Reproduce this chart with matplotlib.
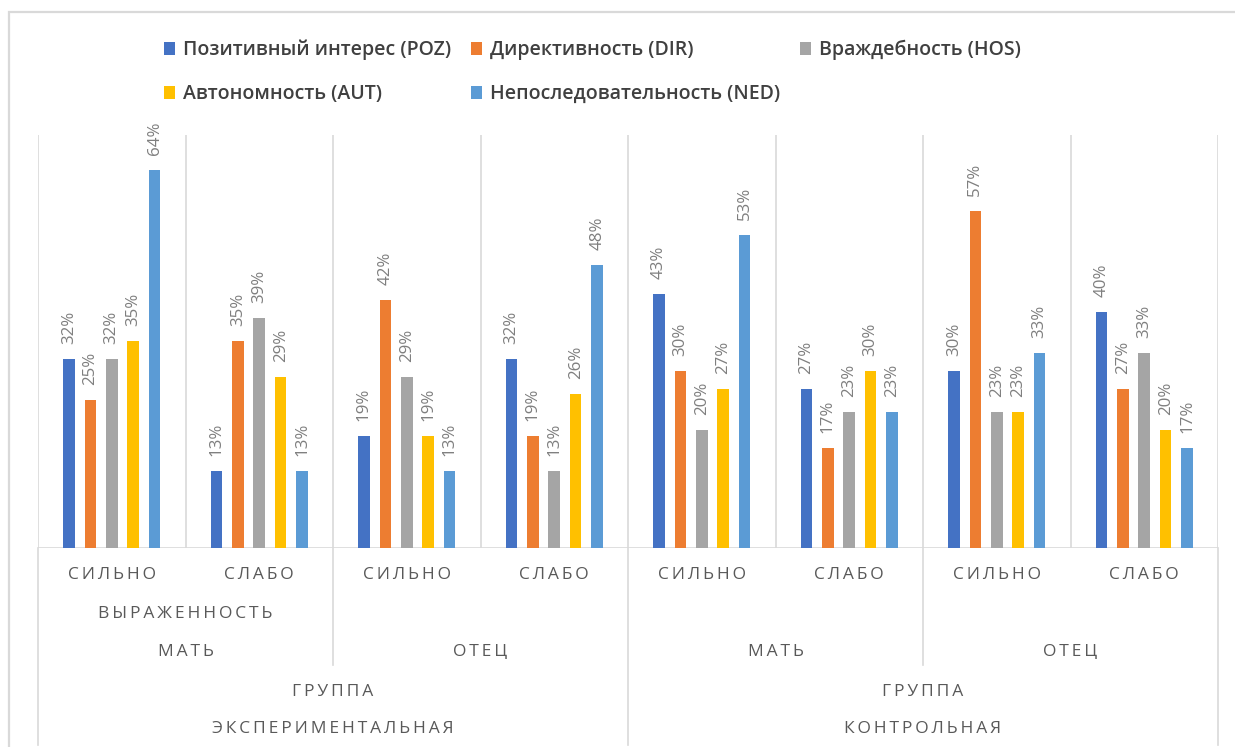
import matplotlib
matplotlib.use("Agg")
import matplotlib.pyplot as plt
from matplotlib.patches import Rectangle
import numpy as np

plt.rcParams['font.family'] = ['Open Sans', 'DejaVu Sans']

series = ['Позитивный интерес (POZ)', 'Директивность (DIR)', 'Враждебность (HOS)',
          'Автономность (AUT)', 'Непоследовательность (NED)']
colors = ['#4472C4', '#ED7D31', '#A5A5A5', '#FFC000', '#5B9BD5']

# 8 categories: группа / родитель / выраженность
level1 = ['СИЛЬНО', 'СЛАБО'] * 4
level2 = ['МАТЬ', 'ОТЕЦ', 'МАТЬ', 'ОТЕЦ']
level3 = ['ЭКСПЕРИМЕНТАЛЬНАЯ', 'КОНТРОЛЬНАЯ']

poz = [32, 13, 19, 32, 43, 27, 30, 40]
dir_ = [25, 35, 42, 19, 30, 17, 57, 27]
hos = [32, 39, 29, 13, 20, 23, 23, 33]
aut = [35, 29, 19, 26, 27, 30, 23, 20]
ned = [64, 13, 13, 48, 53, 23, 33, 17]
values = [poz, dir_, hos, aut, ned]

W, H = 1235, 747
fig = plt.figure(figsize=(W / 100, H / 100), dpi=100)
ax = fig.add_axes([38 / W, 1 - 548 / H, (1218 - 38) / W, (548 - 134.6) / H])

x = np.arange(8)
pitch = 0.1455
bw = 0.078
grid_c = '#d9d9d9'
bars = []
for j, (name, vals, c) in enumerate(zip(series, values, colors)):
    v = np.array(vals) / 100
    b = ax.bar(x + (j - 2) * pitch, v, bw, color=c, label=name, zorder=3)
    bars.append(b)
    for xi, vi in zip(x + (j - 2) * pitch, v):
        ax.annotate(f'{vi*100:.0f}%', (xi, vi), xytext=(0, 15), textcoords='offset pixels',
                    rotation=90, ha='center', va='bottom', fontsize=12.2, color='#7f7f7f')

ax.set_xlim(-0.5, 7.5)
ax.set_ylim(0, 0.70)
ax.set_xticks([])
ax.set_yticks([])
for s in ax.spines.values():
    s.set_visible(False)
ax.axhline(0, color=grid_c, lw=1.2, zorder=2)

# vertical separators inside plot
for b in np.arange(-0.5, 8, 1.0):
    ax.plot([b, b], [0, 0.70], color=grid_c, lw=1.2, zorder=1)

# separators below axis
trans = ax.get_xaxis_transform()
ah = 548 - 134.6
for b in [-0.5, 3.5, 7.5]:
    ax.plot([b, b], [0, -197 / ah], color=grid_c, lw=1.2, transform=trans, clip_on=False)
for b in [1.5, 5.5]:
    ax.plot([b, b], [0, -117 / ah], color=grid_c, lw=1.2, transform=trans, clip_on=False)


def spaced(s):
    return '\u2009'.join(s)


lab_c = '#595959'
for i, t in enumerate(level1):
    ax.text(i, -27 / ah, spaced(t), transform=trans, ha='center', va='center', fontsize=12.5, color=lab_c)
ax.text(0.5, -66 / ah, spaced('ВЫРАЖЕННОСТЬ'), transform=trans, ha='center', va='center', fontsize=12.5, color=lab_c)
for i, t in enumerate(level2):
    ax.text(2 * i + 0.5, -104 / ah, spaced(t), transform=trans, ha='center', va='center', fontsize=12.5, color=lab_c)
for i, t in enumerate(level3):
    ax.text(4 * i + 1.5, -144 / ah, spaced('ГРУППА'), transform=trans, ha='center', va='center', fontsize=12.5, color=lab_c)
    ax.text(4 * i + 1.5, -181 / ah, spaced(t), transform=trans, ha='center', va='center', fontsize=12.5, color=lab_c)

# legend, row-wise order
order = [0, 3, 1, 4, 2]
leg = fig.legend([bars[k] for k in order], [series[k] for k in order], ncol=3,
                 loc='upper left', bbox_to_anchor=(154 / W, 1 - 30 / H), frameon=False,
                 borderpad=0, handlelength=0.6, handleheight=0.6,
                 handletextpad=0.4, columnspacing=1.0, labelspacing=1.24,
                 labelcolor='#404040', prop={'weight': 'semibold', 'size': 14})

# chart border
fig.patches.append(Rectangle((9 / W, -0.1), 1.2, 1.1 - 12 / H, transform=fig.transFigure,
                             fill=False, edgecolor=grid_c, lw=1.6, clip_on=False))

fig.savefig('out.png', dpi=100)
